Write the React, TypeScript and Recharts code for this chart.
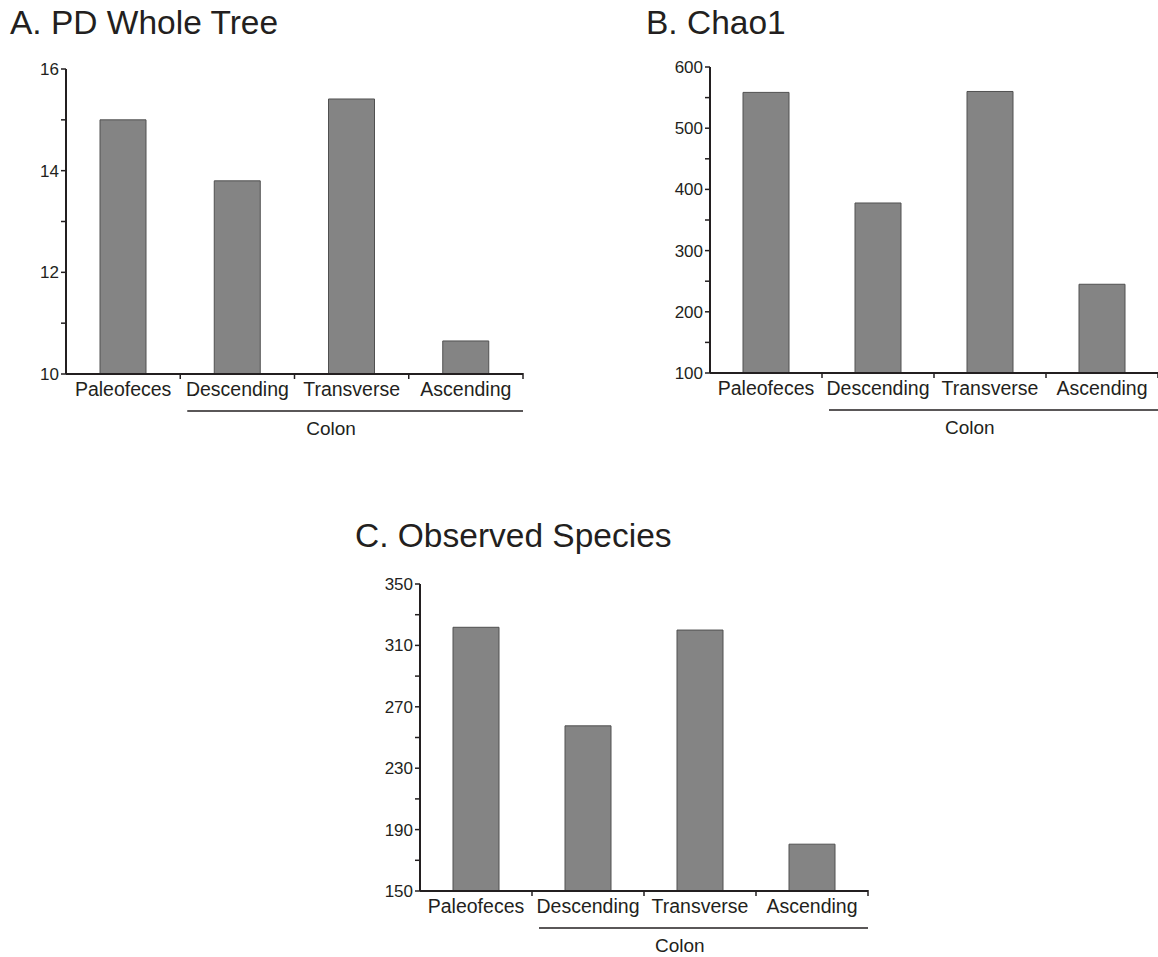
import React from 'react';
import { BarChart, Bar, XAxis, YAxis } from 'recharts';

const categories = ['Paleofeces', 'Descending', 'Transverse', 'Ascending'];
const groupLabel = 'Colon';

const pdWholeTree = [15.0, 13.8, 15.41, 10.65];
const chao1 = [558.5, 377.8, 560, 245];
const observedSpecies = [321.8, 257.6, 320, 180.5];

const pdTicks = [10, 11, 12, 13, 14, 15, 16];
const pdLabelTicks = [10, 12, 14, 16];
const chaoTicks = [100, 150, 200, 250, 300, 350, 400, 450, 500, 550, 600];
const chaoLabelTicks = [100, 200, 300, 400, 500, 600];
const obsTicks = [150, 170, 190, 210, 230, 250, 270, 290, 310, 330, 350];
const obsLabelTicks = [150, 190, 230, 270, 310, 350];

const INK = '#231f20';
const FONT = '"Liberation Sans", Arial, Helvetica, sans-serif';
const Y_AXIS_WIDTH = 50;
const TICK_MARGIN = 8;

function ColonLabel(props: any) {
  const vb = props.viewBox || {};
  const x = Number(vb.x || 0);
  const y = Number(vb.y || 0);
  const width = Number(vb.width || 0);
  const band = width / categories.length;
  return (
    <g>
      <line x1={x + band + 7} x2={x + width} y1={y + 37} y2={y + 37} stroke={INK} strokeWidth={1.5} />
      <text x={x + 0.58 * width} y={y + 61} textAnchor="middle" fontSize={19} fill={INK} fontFamily={FONT}>
        {groupLabel}
      </text>
    </g>
  );
}

function CategoryTick(props: any) {
  const x = Number(props.x);
  const y = Number(props.y);
  const band = Number(props.band);
  const axisY = y - TICK_MARGIN;
  const bx = x + band / 2;
  return (
    <g>
      <line x1={bx} x2={bx} y1={axisY - 1} y2={axisY + 5} stroke={INK} strokeWidth={1.5} />
      <text
        x={x}
        y={y}
        dy="0.71em"
        textAnchor="middle"
        fontSize={19.5}
        fill={INK}
        fontFamily={FONT}
      >
        {props.payload?.value}
      </text>
    </g>
  );
}

type PanelProps = {
  title: string;
  values: number[];
  ticks: number[];
  labelTicks: number[];
  domain: [number, number];
  left: number;
  top: number;
  width: number;
  height: number;
  margin: { top: number; right: number; bottom: number; left: number };
  titleLeft: number;
  titleTop: number;
  barSize: number;
};

function Panel(p: PanelProps) {
  const data = categories.map((name, i) => ({ name, value: p.values[i] }));
  const plotWidth = p.width - p.margin.left - p.margin.right - Y_AXIS_WIDTH;
  const band = plotWidth / categories.length;
  return (
    <>
      <div
        style={{
          position: 'absolute',
          left: p.titleLeft,
          top: p.titleTop,
          fontFamily: FONT,
          fontSize: 33.5,
          lineHeight: '33.5px',
          color: INK,
          whiteSpace: 'nowrap',
        }}
      >
        {p.title}
      </div>
      <div style={{ position: 'absolute', left: p.left, top: p.top }}>
        <BarChart width={p.width} height={p.height} data={data} margin={p.margin} barCategoryGap={0}>
          <XAxis
            dataKey="name"
            type="category"
            interval={0}
            height={70}
            axisLine={{ stroke: INK, strokeWidth: 2 }}
            tickLine={false}
            tickSize={0}
            tickMargin={TICK_MARGIN}
            tick={<CategoryTick band={band} />}
            label={<ColonLabel />}
          />
          <YAxis
            type="number"
            domain={p.domain}
            ticks={p.ticks}
            interval={0}
            width={Y_AXIS_WIDTH}
            allowDataOverflow
            axisLine={{ stroke: INK, strokeWidth: 2 }}
            tickLine={{ stroke: INK, strokeWidth: 1.5 }}
            tickSize={5}
            tickMargin={2}
            tick={{ fontSize: 17, fill: INK, fontFamily: FONT }}
            tickFormatter={(v: number) => (p.labelTicks.includes(v) ? String(v) : '')}
          />
          <Bar
            dataKey="value"
            fill="#848484"
            stroke="#505050"
            strokeWidth={1}
            barSize={p.barSize}
            isAnimationActive={false}
          />
        </BarChart>
      </div>
    </>
  );
}

export default function App() {
  return (
    <div style={{ position: 'absolute', left: 0, top: 0, width: 1158, height: 957, background: '#fff', overflow: 'hidden' }}>
      <Panel
        title="A. PD Whole Tree"
        values={pdWholeTree}
        ticks={pdTicks}
        labelTicks={pdLabelTicks}
        domain={[10, 16]}
        left={0}
        top={0}
        width={540}
        height={460}
        margin={{ top: 69, right: 17, bottom: 16, left: 16 }}
        titleLeft={10}
        titleTop={5.5}
        barSize={46}
      />
      <Panel
        title="B. Chao1"
        values={chao1}
        ticks={chaoTicks}
        labelTicks={chaoLabelTicks}
        domain={[100, 600]}
        left={600}
        top={0}
        width={558}
        height={460}
        margin={{ top: 67, right: 0, bottom: 17, left: 60 }}
        titleLeft={646}
        titleTop={5.5}
        barSize={46}
      />
      <Panel
        title="C. Observed Species"
        values={observedSpecies}
        ticks={obsTicks}
        labelTicks={obsLabelTicks}
        domain={[150, 350]}
        left={350}
        top={520}
        width={540}
        height={437}
        margin={{ top: 64, right: 22, bottom: -4, left: 20 }}
        titleLeft={355}
        titleTop={518.5}
        barSize={46}
      />
    </div>
  );
}
